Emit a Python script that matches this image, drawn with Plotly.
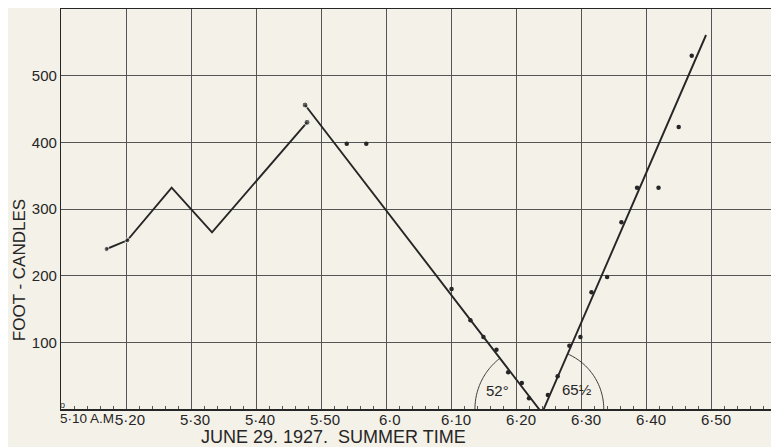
import numpy as np
import plotly.graph_objects as go

# time in minutes after 5:00 a.m. (June 29, 1927, summer time); values in foot-candles
curve_t = [17.0, 20.2, 27.0, 33.2, 47.8]
curve_fc = [240, 253, 332, 265, 430]

fit_t = [47.5, 83.9, 109.1]
fit_fc = [456, -6, 561]

dot_t = [53.9, 56.9, 70.0, 72.9, 74.9, 76.9, 78.7, 80.8, 81.9, 84.8,
         86.3, 88.1, 89.8, 91.5, 93.9, 96.1, 98.5, 101.8, 104.9, 106.9]
dot_fc = [398, 398, 180, 133, 108, 89, 55, 39, 16, 21,
          49, 95, 108, 175, 198, 280, 332, 332, 423, 530]

tick_t = [10, 20, 30, 40, 50, 60, 70, 80, 90, 100, 110]
tick_labels = ["5·10 A.M.", "5·20", "5·30", "5·40", "5·50", "6·0",
               "6·10", "6·20", "6·30", "6·40", "6·50"]
y_ticks = [100, 200, 300, 400, 500]
angle_labels = ["52°", "65½"]
angle_label_t = [77.0, 89.3]
angle_label_fc = [28, 30]

# the page has an 8px body margin, so the figure is sized to fit inside it
W, H = 771, 439
ML, MR, MT, MB = 53, 2, 1, 38
XR = [10, 120]
YR = [0, 600]
px_x = (W - ML - MR) / (XR[1] - XR[0])
px_y = (H - MT - MB) / (YR[1] - YR[0])

ink = "#262626"
grid = "#555555"
bg = "#f4f1e8"
font_family = "Liberation Sans, Arial, sans-serif"

fig = go.Figure()
fig.add_trace(go.Scatter(x=curve_t, y=curve_fc, mode="lines+markers",
                         line=dict(color=ink, width=1.9),
                         marker=dict(size=[5, 5, 0, 0, 6], color=ink),
                         showlegend=False, hoverinfo="skip"))
fig.add_trace(go.Scatter(x=fit_t, y=fit_fc, mode="lines+markers",
                         line=dict(color=ink, width=1.9),
                         marker=dict(size=[6, 0, 0], color=ink),
                         showlegend=False, hoverinfo="skip", cliponaxis=False))
fig.add_trace(go.Scatter(x=dot_t, y=dot_fc, mode="markers",
                         marker=dict(size=4.5, color=ink),
                         showlegend=False, hoverinfo="skip"))

# angle arcs at the crossing of the fitted lines with the time axis
def cross0(t0, f0, t1, f1):
    return t0 + (t1 - t0) * (0 - f0) / (f1 - f0)

left_c = cross0(fit_t[0], fit_fc[0], fit_t[1], fit_fc[1])
right_c = cross0(fit_t[1], fit_fc[1], fit_t[2], fit_fc[2])
ang_l = np.degrees(np.arctan2((fit_fc[0] - fit_fc[1]) * px_y, (fit_t[1] - fit_t[0]) * px_x))
ang_r = np.degrees(np.arctan2((fit_fc[2] - fit_fc[1]) * px_y, (fit_t[2] - fit_t[1]) * px_x))

def arc_path(cx, r_px, a0, a1):
    th = np.radians(np.linspace(a0, a1, 40))
    xs = cx + r_px * np.cos(th) / px_x
    ys = r_px * np.sin(th) / px_y
    return "M " + " L ".join(f"{a:.4f},{b:.4f}" for a, b in zip(xs, ys))

fig.add_shape(type="path", path=arc_path(left_c, 64, 180, 180 - ang_l),
              xref="x", yref="y", line=dict(color=ink, width=0.9))
fig.add_shape(type="path", path=arc_path(right_c, 60, 0, ang_r),
              xref="x", yref="y", line=dict(color=ink, width=0.9))

annotations = []
for t, f, lab in zip(angle_label_t, angle_label_fc, angle_labels):
    annotations.append(dict(x=t, y=f, xref="x", yref="y", text=lab, showarrow=False,
                            font=dict(size=15, color=ink, family=font_family)))
for t, lab in zip(tick_t, tick_labels):
    first = t == tick_t[0]
    annotations.append(dict(x=t, y=0, xref="x", yref="paper", text=lab, showarrow=False,
                            xanchor="left" if first else "center", yanchor="top",
                            xshift=-3 if first else 4, yshift=0,
                            font=dict(size=13.5 if first else 15, color=ink, family=font_family)))
annotations.append(dict(x=0.381, y=0, xref="paper", yref="paper",
                        text="JUNE 29. 1927.  SUMMER TIME", showarrow=False,
                        xanchor="center", yanchor="middle", yshift=-28,
                        font=dict(size=18, color=ink, family=font_family)))
annotations.append(dict(x=0, y=0.347, xref="paper", yref="paper",
                        text="FOOT - CANDLES", showarrow=False, textangle=-90,
                        xanchor="center", yanchor="middle", xshift=-42,
                        font=dict(size=17, color=ink, family=font_family)))
annotations.append(dict(x=XR[0], y=0, xref="x", yref="y", text="o", showarrow=False,
                        xanchor="center", yanchor="bottom", xshift=1, yshift=-3,
                        font=dict(size=9, color=ink, family=font_family)))

fig.update_layout(
    width=W, height=H,
    margin=dict(l=ML, r=MR, t=MT, b=MB, autoexpand=False),
    paper_bgcolor=bg, plot_bgcolor=bg,
    annotations=annotations,
    xaxis=dict(range=XR, tickvals=tick_t, showticklabels=False, automargin=False,
               showgrid=True, gridcolor=grid, gridwidth=1,
               showline=True, linecolor=ink, linewidth=1.5, mirror=True,
               zeroline=False, ticks="",
               minor=dict(tickvals=list(range(12, 120, 2)), ticks="inside",
                          ticklen=3, tickcolor=grid, tickwidth=1, showgrid=False)),
    yaxis=dict(range=YR, tickvals=y_ticks, ticktext=[str(v) for v in y_ticks],
               automargin=False,
               showgrid=True, gridcolor=grid, gridwidth=1,
               showline=True, linecolor=ink, linewidth=1.2, mirror=False,
               zeroline=False, ticks="",
               tickfont=dict(size=15, color=ink, family=font_family)),
)

fig.write_html("out.html")
